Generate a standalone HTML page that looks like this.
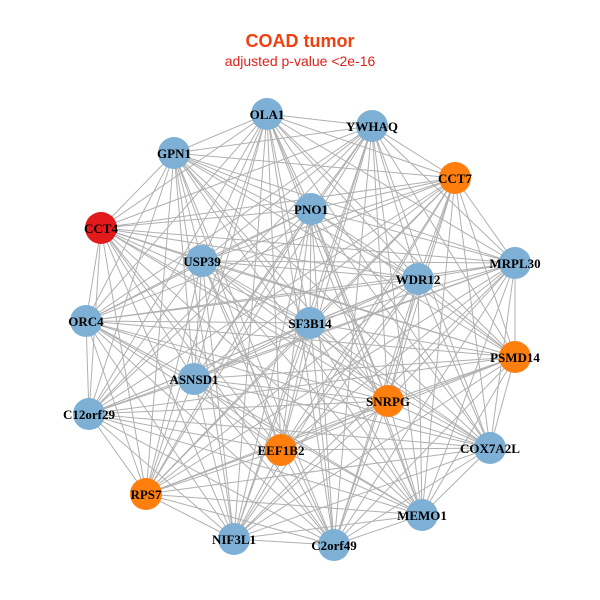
<!DOCTYPE html>
<html><head><meta charset="utf-8"><style>body{margin:0;background:#fff}svg{display:block}</style></head>
<body>
<svg id="s" width="600" height="600" xmlns="http://www.w3.org/2000/svg">
<rect width="600" height="600" fill="#fff"/>
<text x="300" y="47" text-anchor="middle" font-family="Liberation Sans, sans-serif" font-weight="bold" font-size="18" fill="#f04010">COAD tumor</text>
<text x="300" y="66" text-anchor="middle" font-family="Liberation Sans, sans-serif" font-size="14" fill="#e0201a">adjusted p-value &lt;2e-16</text>
<g id="edges" stroke="#b0b0b0" stroke-width="1"></g>
<g id="nodes"></g>
<g font-family="Liberation Serif, serif" font-weight="bold" font-size="13" text-anchor="middle" fill="#000">
<text x="267" y="119">OLA1</text>
<text x="372" y="131">YWHAQ</text>
<text x="174" y="158">GPN1</text>
<text x="455" y="183">CCT7</text>
<text x="311" y="214">PNO1</text>
<text x="101" y="233">CCT4</text>
<text x="202" y="266">USP39</text>
<text x="515" y="268">MRPL30</text>
<text x="418" y="284">WDR12</text>
<text x="86" y="326">ORC4</text>
<text x="310" y="328">SF3B14</text>
<text x="515" y="362">PSMD14</text>
<text x="194" y="384">ASNSD1</text>
<text x="388" y="406">SNRPG</text>
<text x="89" y="419">C12orf29</text>
<text x="490" y="453">COX7A2L</text>
<text x="281" y="455">EEF1B2</text>
<text x="146" y="499">RPS7</text>
<text x="422" y="520">MEMO1</text>
<text x="234" y="544">NIF3L1</text>
<text x="334" y="550">C2orf49</text>
</g>
</svg>
<script>
var B="#7eb0d5",O="#ff7f0e",R="#e31a1c";
var n=[[267,114,B],[372,126,B],[174,153,B],[455,178,O],[311,209,B],[101,228,R],[202,261,B],[515,263,B],[418,279,B],[86,321,B],[310,323,B],[515,357,O],[194,379,B],[388,401,O],[89,414,B],[490,448,B],[281,450,O],[146,494,O],[422,515,B],[234,539,B],[334,545,B]];
var ns="http://www.w3.org/2000/svg",e=document.getElementById("edges"),g=document.getElementById("nodes");
for(var i=0;i<n.length;i++)for(var j=i+1;j<n.length;j++){var l=document.createElementNS(ns,"line");l.setAttribute("x1",n[i][0]);l.setAttribute("y1",n[i][1]);l.setAttribute("x2",n[j][0]);l.setAttribute("y2",n[j][1]);e.appendChild(l);}
n.forEach(function(p){var c=document.createElementNS(ns,"circle");c.setAttribute("cx",p[0]);c.setAttribute("cy",p[1]);c.setAttribute("r",16);c.setAttribute("fill",p[2]);g.appendChild(c);});
</script>
</body></html>
